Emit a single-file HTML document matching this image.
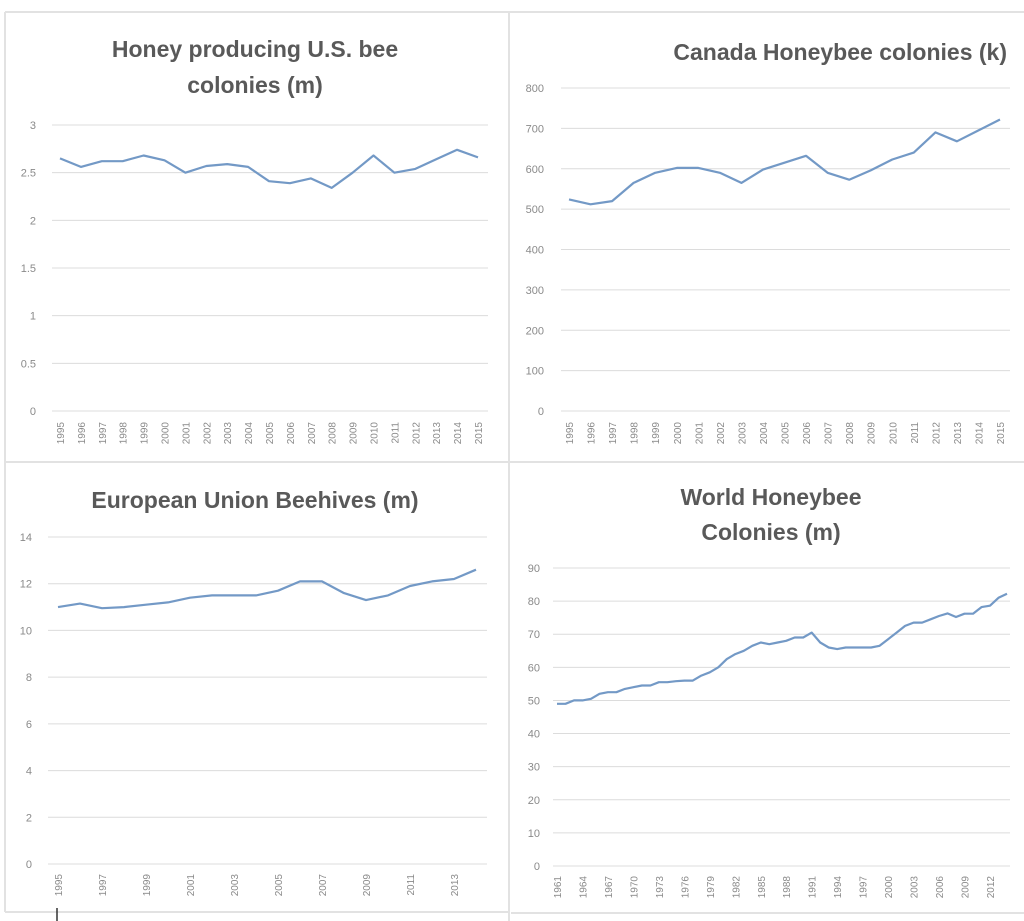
<!DOCTYPE html>
<html><head><meta charset="utf-8"><style>
html,body{margin:0;padding:0;background:#fff;}
svg{display:block;font-family:"Liberation Sans",sans-serif;}
.t{font-weight:bold;fill:#595959;font-size:23px;}
.yl{fill:#8a8a8a;font-size:11px;}
.xl{fill:#8a8a8a;font-size:10px;}
</style></head><body>
<svg id="s" width="1024" height="921" viewBox="0 0 1024 921" xmlns="http://www.w3.org/2000/svg">
<rect width="1024" height="921" fill="#fff"/>
<g stroke="#e2e2e2" stroke-width="2" fill="none">
<line x1="5" y1="12" x2="1024" y2="12"/>
<line x1="5" y1="12" x2="5" y2="912"/>
<line x1="509" y1="12" x2="509" y2="921"/>
<line x1="5" y1="462" x2="1024" y2="462"/>
<line x1="5" y1="912" x2="509" y2="912"/>
<line x1="511" y1="913" x2="1024" y2="913"/>
</g>
<line x1="57" y1="908" x2="57" y2="921" stroke="#333" stroke-width="1.5"/>
<text class="t" x="255" y="57" text-anchor="middle">Honey producing U.S. bee</text>
<text class="t" x="255" y="93" text-anchor="middle">colonies (m)</text>
<text class="t" x="1007" y="60" text-anchor="end">Canada Honeybee colonies (k)</text>
<text class="t" x="255" y="508" text-anchor="middle">European Union Beehives (m)</text>
<text class="t" x="771" y="505" text-anchor="middle">World Honeybee</text>
<text class="t" x="771" y="540" text-anchor="middle">Colonies (m)</text>
<g id="g"></g>
</svg>
<script>
var g=document.getElementById('g'),h='';
function chart(o){
 // gridlines
 for(var i=0;i<o.ticks.length;i++){
  var v=o.ticks[i],y=o.y0+(o.y1-o.y0)*(v-o.vmin)/(o.vmax-o.vmin);
  h+='<line x1="'+o.gx0+'" x2="'+o.gx1+'" y1="'+y+'" y2="'+y+'" stroke="#dcdcdc" stroke-width="1"/>';
  h+='<text class="yl" x="'+o.lx+'" y="'+(y+4)+'" text-anchor="end">'+o.lab(v)+'</text>';
 }
 var p='';
 for(var j=0;j<o.data.length;j++){
  var x=o.dx0+j*o.step,y=o.y0+(o.y1-o.y0)*(o.data[j]-o.vmin)/(o.vmax-o.vmin);
  p+=(j?'L':'M')+x.toFixed(1)+' '+y.toFixed(1);
  if(j%o.every==0){
   var yr=o.start+j;
   h+='<text class="xl" transform="translate('+(x+4)+','+o.xly+') rotate(-90)" text-anchor="end">'+yr+'</text>';
  }
 }
 h+='<path d="'+p+'" fill="none" stroke="#7399c6" stroke-width="2.2" stroke-linejoin="round"/>';
}
chart({ticks:[0,0.5,1,1.5,2,2.5,3],vmin:0,vmax:3,y0:411,y1:125,gx0:52,gx1:488,lx:36,lab:function(v){return v},
 dx0:60,step:20.9,start:1995,every:1,xly:422,
 data:[2.65,2.56,2.62,2.62,2.68,2.63,2.50,2.57,2.59,2.56,2.41,2.39,2.44,2.34,2.50,2.68,2.50,2.54,2.64,2.74,2.66]});
chart({ticks:[0,100,200,300,400,500,600,700,800],vmin:0,vmax:800,y0:411,y1:88,gx0:561,gx1:1010,lx:544,lab:function(v){return v},
 dx0:569,step:21.55,start:1995,every:1,xly:422,
 data:[524,512,520,565,590,602,602,590,565,598,615,632,590,573,596,623,640,690,668,695,722]});
chart({ticks:[0,2,4,6,8,10,12,14],vmin:0,vmax:14,y0:864,y1:537,gx0:48,gx1:487,lx:32,lab:function(v){return v},
 dx0:58,step:22,start:1995,every:2,xly:874,
 data:[11.0,11.15,10.95,11.0,11.1,11.2,11.4,11.5,11.5,11.5,11.7,12.1,12.1,11.6,11.3,11.5,11.9,12.1,12.2,12.6]});
chart({ticks:[0,10,20,30,40,50,60,70,80,90],vmin:0,vmax:90,y0:866,y1:568,gx0:553,gx1:1010,lx:540,lab:function(v){return v},
 dx0:557,step:8.49,start:1961,every:3,xly:876,
 data:[49,49,50,50,50.5,52,52.5,52.5,53.5,54,54.5,54.5,55.5,55.5,55.8,56,56,57.5,58.5,60,62.5,64,65,66.5,67.5,67,67.5,68,69,69,70.5,67.5,66,65.5,66,66,66,66,66.5,68.5,70.5,72.5,73.5,73.5,74.5,75.5,76.3,75.2,76.2,76.2,78.2,78.6,81,82.2,83.3].slice(0,54)});
g.innerHTML=h;
</script>
</body></html>
